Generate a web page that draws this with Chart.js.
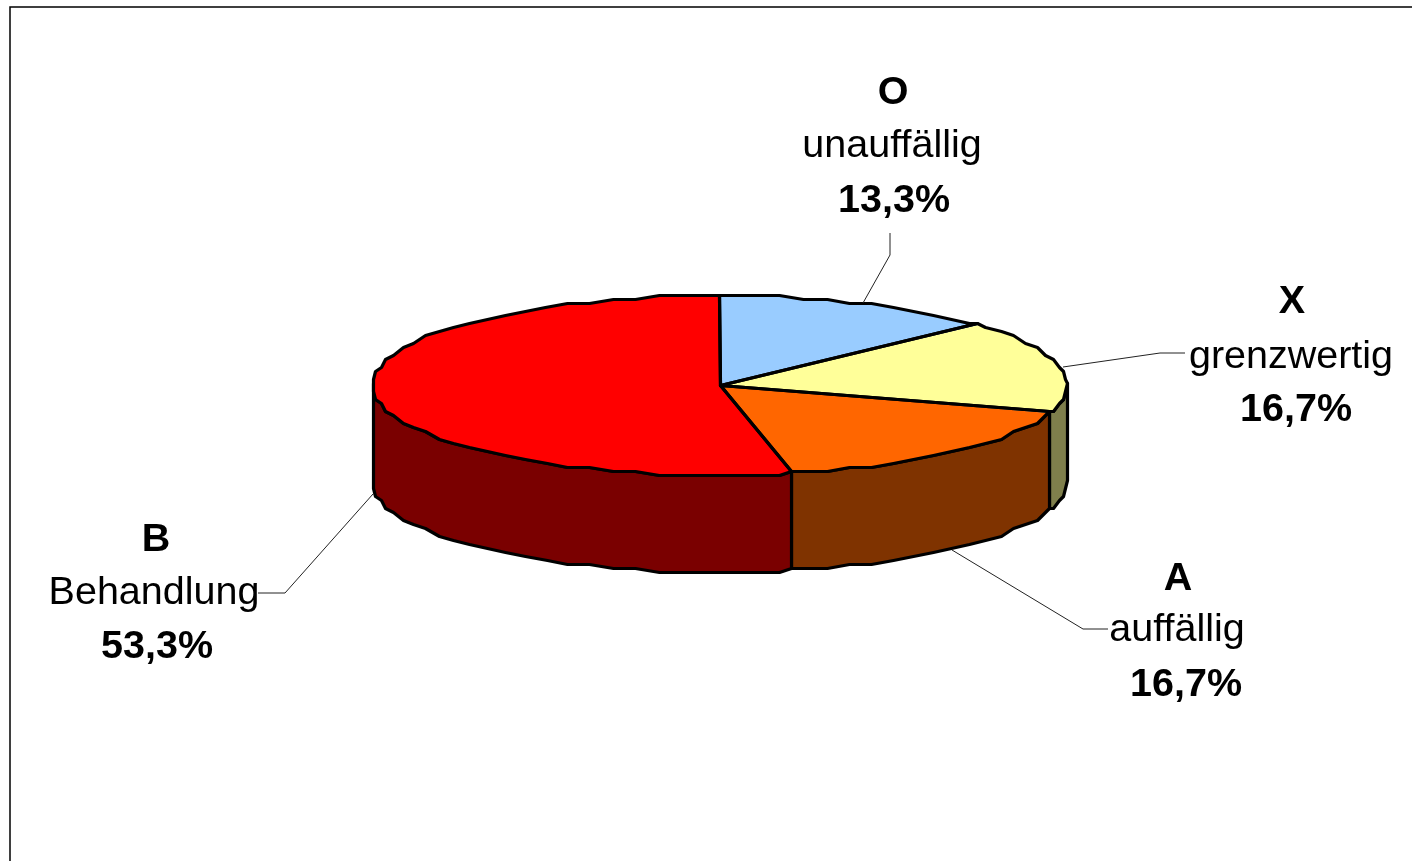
<!DOCTYPE html>
<html>
<head>
<meta charset="utf-8">
<style>html,body{margin:0;padding:0;background:#fff}canvas{display:block}</style>
<script src="https://cdn.jsdelivr.net/npm/chart.js@4"></script>
</head>
<body>
<canvas id="c" width="1412" height="861"></canvas>
<script>
const codes = ['O', 'X', 'A', 'B'];
const descriptions = ['unauffällig', 'grenzwertig', 'auffällig', 'Behandlung'];
const percentages = [13.3, 16.7, 16.7, 53.3];
const topColors = ['#99CCFF', '#FFFF99', '#FF6600', '#FF0000'];
const sideColors = ['#4C667F', '#7F7F4C', '#7F3300', '#7A0000'];

const CX = 720.5, CY = 385.5, RX = 347, RY = 90, DEPTH = 97, LIB_R = 360;
const FONT = '"Liberation Sans", Arial, sans-serif', FS = 39.5;
const labelLayout = [
  {ys: [104, 157, 212], lead: [[863,303],[890,255],[890,233]], xs: [893, 892, 894]},
  {ys: [313, 368, 421], lead: [[1063,367],[1160,353],[1185,353]], xs: [1292, 1291, 1296]},
  {ys: [590, 641, 696], lead: [[952,550],[1083,629],[1108,629]], xs: [1178, 1177, 1186]},
  {ys: [551, 604, 658], lead: [[373,494],[285,593],[258,593]], xs: [156, 154, 157]}
];

function pt(a, dy) {
  const x = CX + RX * Math.cos(a), y = CY + RY * Math.sin(a);
  return [Math.round(x / 2) * 2 - 0.5, Math.round(y / 4) * 4 - 0.5 + (dy || 0)];
}
function rim(a0, a1, dy) {
  const step = Math.PI / 45, out = [pt(a0, dy)];
  let k = Math.ceil((a0 + 1e-6) / step);
  for (; k * step < a1 - 1e-6; k++) out.push(pt(k * step, dy));
  out.push(pt(a1, dy));
  return out;
}
function trace(ctx, pts, move) {
  pts.forEach((p, i) => (i === 0 && move) ? ctx.moveTo(p[0], p[1]) : ctx.lineTo(p[0], p[1]));
}

const pie3d = {
  id: 'pie3d',
  beforeDatasetsDraw(chart) {
    const ctx = chart.ctx, arcs = chart.getDatasetMeta(0).data;
    ctx.save();
    ctx.strokeStyle = '#000'; ctx.lineWidth = 1.5;
    ctx.strokeRect(10, 7, 1600, 1200);
    ctx.restore();
    ctx.save();
    ctx.lineWidth = 3.2; ctx.lineJoin = 'round'; ctx.strokeStyle = '#000';
    arcs.forEach((arc, i) => {
      const p = arc.getProps(['startAngle', 'endAngle'], true);
      [0, 2].forEach(turn => {
        const a0 = Math.max(p.startAngle, turn * Math.PI), a1 = Math.min(p.endAngle, (turn + 1) * Math.PI);
        if (a1 <= a0) return;
        const t = rim(a0, a1, 0), b = rim(a0, a1, DEPTH).reverse();
        ctx.beginPath(); trace(ctx, t, true); trace(ctx, b, false); ctx.closePath();
        ctx.fillStyle = sideColors[i]; ctx.fill(); ctx.stroke();
      });
    });
    ctx.restore();
    ctx.save();
    ctx.beginPath();
    arcs.forEach((arc, i) => {
      const p = arc.getProps(['startAngle', 'endAngle'], true);
      trace(ctx, rim(p.startAngle, p.endAngle, 0), i === 0);
    });
    ctx.closePath(); ctx.clip();
    const a = arcs[0].getProps(['x', 'y'], true);
    ctx.translate(CX, CY); ctx.scale(1, RY / RX);
    ctx.translate(-a.x, -a.y);
  },
  afterDatasetsDraw(chart) {
    const ctx = chart.ctx, arcs = chart.getDatasetMeta(0).data;
    ctx.restore();
    ctx.save();
    ctx.lineWidth = 3.2; ctx.lineJoin = 'round'; ctx.strokeStyle = '#000';
    arcs.forEach(arc => {
      const p = arc.getProps(['startAngle', 'endAngle'], true);
      const r = rim(p.startAngle, p.endAngle, 0);
      ctx.beginPath(); ctx.moveTo(CX, CY); trace(ctx, r, false); ctx.closePath(); ctx.stroke();
    });
    ctx.restore();
    ctx.save();
    ctx.fillStyle = '#000'; ctx.strokeStyle = '#222'; ctx.lineWidth = 1; ctx.textAlign = 'center'; ctx.textBaseline = 'alphabetic';
    codes.forEach((code, i) => {
      const L = labelLayout[i];
      ctx.beginPath(); L.lead.forEach((p, k) => k ? ctx.lineTo(p[0], p[1]) : ctx.moveTo(p[0], p[1])); ctx.stroke();
      ctx.font = 'bold ' + FS + 'px ' + FONT; ctx.fillText(code, L.xs[0], L.ys[0]);
      ctx.font = FS + 'px ' + FONT; ctx.fillText(descriptions[i], L.xs[1], L.ys[1]);
      ctx.font = 'bold ' + FS + 'px ' + FONT; ctx.fillText(String(percentages[i]).replace('.', ',') + '%', L.xs[2], L.ys[2]);
    });
    ctx.restore();
  }
};

new Chart(document.getElementById('c'), {
  type: 'pie',
  data: { labels: codes, datasets: [{ data: percentages, backgroundColor: topColors, borderWidth: 0 }] },
  options: {
    responsive: false, animation: false, radius: LIB_R,
    plugins: { legend: { display: false }, tooltip: { enabled: false } }
  },
  plugins: [pie3d]
});
</script>
</body>
</html>
